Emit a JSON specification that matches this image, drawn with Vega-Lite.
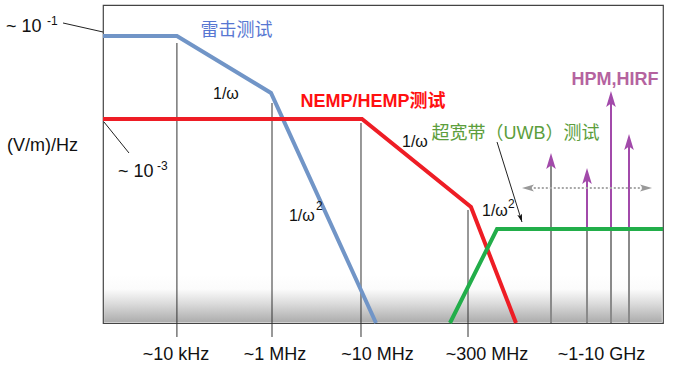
{
  "$schema": "https://vega.github.io/schema/vega-lite/v6.json",
  "width": 560,
  "height": 318,
  "autosize": {"type": "none"},
  "padding": {"left": 103, "top": 5, "right": 10, "bottom": 50},
  "background": "white",
  "config": {"view": {"stroke": "#444", "strokeWidth": 1.2}},
  "datasets": {
    "shade": [{"x": 0.2, "x2": 99.8, "y": 0.3, "y2": 15}],
    "curves": [
      {"series": "lightning", "order": 1, "x": 0, "y": 90.25},
      {"series": "lightning", "order": 2, "x": 13.2, "y": 90.25},
      {"series": "lightning", "order": 3, "x": 30.0, "y": 72.33},
      {"series": "lightning", "order": 4, "x": 48.75, "y": 0},
      {"series": "nemp", "order": 1, "x": 0, "y": 64.15},
      {"series": "nemp", "order": 2, "x": 46.25, "y": 64.15},
      {"series": "nemp", "order": 3, "x": 65.71, "y": 36.48},
      {"series": "nemp", "order": 4, "x": 73.75, "y": 0},
      {"series": "uwb", "order": 1, "x": 61.96, "y": 0},
      {"series": "uwb", "order": 2, "x": 70.36, "y": 29.56},
      {"series": "uwb", "order": 3, "x": 100, "y": 29.56}
    ],
    "rules": [
      {"kind": "guide", "x": 13.2, "x2": 13.2, "y": 88.05, "y2": -4.4},
      {"kind": "guide", "x": 30.18, "x2": 30.18, "y": 69.18, "y2": -4.4},
      {"kind": "guide", "x": 46.07, "x2": 46.07, "y": 62.89, "y2": -4.4},
      {"kind": "guide", "x": 65.18, "x2": 65.18, "y": 35.53, "y2": -4.4},
      {"kind": "pointer", "x": -7.14, "x2": 0, "y": 94.34, "y2": 91.51},
      {"kind": "pointer", "x": 0.18, "x2": 4.64, "y": 63.21, "y2": 53.46},
      {"kind": "pointer", "x": 70.36, "x2": 74.82, "y": 56.92, "y2": 31.76},
      {"kind": "ghzgray", "x": 80.0, "x2": 80.0, "y": 0, "y2": 50.0},
      {"kind": "ghzgray", "x": 86.43, "x2": 86.43, "y": 0, "y2": 29.56},
      {"kind": "ghzgray", "x": 90.71, "x2": 90.71, "y": 0, "y2": 29.56},
      {"kind": "ghzgray", "x": 93.93, "x2": 93.93, "y": 0, "y2": 29.56},
      {"kind": "ghzpurple", "x": 86.43, "x2": 86.43, "y": 29.56, "y2": 45.5},
      {"kind": "ghzpurple", "x": 90.71, "x2": 90.71, "y": 29.56, "y2": 69.5},
      {"kind": "ghzpurple", "x": 93.93, "x2": 93.93, "y": 29.56, "y2": 56.0},
      {"kind": "dotted", "x": 75.5, "x2": 97.5, "y": 42.45, "y2": 42.45}
    ],
    "heads": [
      {"kind": "up", "x": 80.0, "y": 53.46},
      {"kind": "up", "x": 86.43, "y": 48.74},
      {"kind": "up", "x": 90.71, "y": 72.96},
      {"kind": "up", "x": 93.93, "y": 59.43},
      {"kind": "left", "x": 74.82, "y": 42.45},
      {"kind": "right", "x": 98.04, "y": 42.45},
      {"kind": "pointer", "x": 74.82, "y": 31.76}
    ],
    "labels": [
      {"style": "axis", "text": "~10 kHz", "x": 13.04, "y": -11.64},
      {"style": "axis", "text": "~1 MHz", "x": 30.71, "y": -11.64},
      {"style": "axis", "text": "~10 MHz", "x": 49.02, "y": -11.64},
      {"style": "axis", "text": "~300 MHz", "x": 68.57, "y": -11.64},
      {"style": "axis", "text": "~1-10 GHz", "x": 89.02, "y": -11.64},
      {"style": "left", "text": "~ 10", "x": -17.32, "y": 91.51},
      {"style": "left", "text": "(V/m)/Hz", "x": -17.14, "y": 54.09},
      {"style": "left", "text": "~ 10", "x": 2.68, "y": 45.91},
      {"style": "sup", "text": "-1", "x": -10.0, "y": 93.71},
      {"style": "sup", "text": "-3", "x": 9.64, "y": 48.11},
      {"style": "sup", "text": "2", "x": 38.04, "y": 35.53},
      {"style": "sup", "text": "2", "x": 72.32, "y": 36.16},
      {"style": "omega", "text": "1/ω", "x": 19.64, "y": 70.44},
      {"style": "omega", "text": "1/ω", "x": 53.39, "y": 55.35},
      {"style": "omega", "text": "1/ω", "x": 33.21, "y": 32.08},
      {"style": "omega", "text": "1/ω", "x": 67.68, "y": 33.65},
      {"style": "lightning", "text": "雷击测试", "x": 23.84, "y": 91.98},
      {"style": "nemp", "text": "NEMP/HEMP测试", "x": 48.21, "y": 69.5},
      {"style": "uwb", "text": "超宽带（UWB）测试", "x": 73.66, "y": 59.28},
      {"style": "hpm", "text": "HPM,HIRF", "x": 91.43, "y": 76.57}
    ]
  },
  "encoding": {
    "x": {"field": "x", "type": "quantitative", "scale": {"domain": [0, 100], "nice": false, "zero": false}, "axis": null},
    "y": {"field": "y", "type": "quantitative", "scale": {"domain": [0, 100], "nice": false, "zero": false}, "axis": null}
  },
  "layer": [
    {
      "data": {"name": "shade"},
      "mark": {"type": "rect", "fill": {"gradient": "linear", "x1": 0, "y1": 0, "x2": 0, "y2": 1, "stops": [{"offset": 0, "color": "#ffffff"}, {"offset": 0.3, "color": "#fbfbfb"}, {"offset": 0.6, "color": "#dcdcdc"}, {"offset": 1, "color": "#adadad"}]}},
      "encoding": {"x2": {"field": "x2"}, "y2": {"field": "y2"}}
    },
    {
      "data": {"name": "rules"},
      "transform": [{"filter": "datum.kind == 'guide'"}],
      "mark": {"type": "rule", "color": "#333333", "strokeWidth": 1},
      "encoding": {"x2": {"field": "x2"}, "y2": {"field": "y2"}}
    },
    {
      "data": {"name": "rules"},
      "transform": [{"filter": "datum.kind == 'ghzgray'"}],
      "mark": {"type": "rule", "color": "#8a8a8a", "strokeWidth": 2},
      "encoding": {"x2": {"field": "x2"}, "y2": {"field": "y2"}}
    },
    {
      "data": {"name": "rules"},
      "transform": [{"filter": "datum.kind == 'ghzpurple'"}],
      "mark": {"type": "rule", "color": "#a24aaa", "strokeWidth": 2},
      "encoding": {"x2": {"field": "x2"}, "y2": {"field": "y2"}}
    },
    {
      "data": {"name": "rules"},
      "transform": [{"filter": "datum.kind == 'dotted'"}],
      "mark": {"type": "rule", "color": "#a8a8a8", "strokeWidth": 2, "strokeDash": [2, 2]},
      "encoding": {"x2": {"field": "x2"}, "y2": {"field": "y2"}}
    },
    {
      "data": {"name": "curves"},
      "mark": {"type": "line", "strokeWidth": 4},
      "encoding": {
        "color": {"field": "series", "type": "nominal", "scale": {"domain": ["lightning", "nemp", "uwb"], "range": ["#7195c7", "#ee1d25", "#22ae4a"]}, "legend": null},
        "order": {"field": "order", "type": "quantitative"}
      }
    },
    {
      "data": {"name": "rules"},
      "transform": [{"filter": "datum.kind == 'pointer'"}],
      "mark": {"type": "rule", "color": "#222222", "strokeWidth": 1},
      "encoding": {"x2": {"field": "x2"}, "y2": {"field": "y2"}}
    },
    {
      "data": {"name": "heads"},
      "transform": [{"filter": "datum.kind == 'up'"}],
      "mark": {"type": "point", "shape": "M0,-1L0.6,1L0,0.55L-0.6,1Z", "filled": true, "size": 256, "color": "#a24aaa", "opacity": 1, "yOffset": 8}
    },
    {
      "data": {"name": "heads"},
      "transform": [{"filter": "datum.kind == 'left'"}],
      "mark": {"type": "point", "shape": "M0,-1L0.6,1L0,0.55L-0.6,1Z", "filled": true, "size": 144, "color": "#999999", "opacity": 1, "angle": 270, "xOffset": 6}
    },
    {
      "data": {"name": "heads"},
      "transform": [{"filter": "datum.kind == 'right'"}],
      "mark": {"type": "point", "shape": "M0,-1L0.6,1L0,0.55L-0.6,1Z", "filled": true, "size": 144, "color": "#999999", "opacity": 1, "angle": 90, "xOffset": -6}
    },
    {
      "data": {"name": "heads"},
      "transform": [{"filter": "datum.kind == 'pointer'"}],
      "mark": {"type": "point", "shape": "M0,-1L0.6,1L0,0.55L-0.6,1Z", "filled": true, "size": 64, "color": "#111111", "opacity": 1, "angle": 163, "xOffset": -1.2, "yOffset": -3.8}
    },
    {
      "data": {"name": "labels"},
      "transform": [{"filter": "datum.style == 'axis'"}],
      "mark": {"type": "text", "font": "Liberation Sans", "fontSize": 18, "align": "center", "baseline": "alphabetic", "color": "#111111"},
      "encoding": {"text": {"field": "text"}}
    },
    {
      "data": {"name": "labels"},
      "transform": [{"filter": "datum.style == 'left'"}],
      "mark": {"type": "text", "font": "Liberation Sans", "fontSize": 18, "align": "left", "baseline": "alphabetic", "color": "#111111"},
      "encoding": {"text": {"field": "text"}}
    },
    {
      "data": {"name": "labels"},
      "transform": [{"filter": "datum.style == 'sup'"}],
      "mark": {"type": "text", "font": "Liberation Sans", "fontSize": 12, "align": "left", "baseline": "alphabetic", "color": "#111111"},
      "encoding": {"text": {"field": "text"}}
    },
    {
      "data": {"name": "labels"},
      "transform": [{"filter": "datum.style == 'omega'"}],
      "mark": {"type": "text", "font": "Liberation Sans", "fontSize": 16, "align": "left", "baseline": "alphabetic", "color": "#111111"},
      "encoding": {"text": {"field": "text"}}
    },
    {
      "data": {"name": "labels"},
      "transform": [{"filter": "datum.style == 'lightning'"}],
      "mark": {"type": "text", "font": "Noto Sans CJK SC", "fontSize": 18, "align": "center", "baseline": "middle", "color": "#5877d2"},
      "encoding": {"text": {"field": "text"}}
    },
    {
      "data": {"name": "labels"},
      "transform": [{"filter": "datum.style == 'nemp'"}],
      "mark": {"type": "text", "font": "Liberation Sans, Noto Sans CJK SC", "fontSize": 18, "fontWeight": "bold", "align": "center", "baseline": "middle", "color": "#ff1010"},
      "encoding": {"text": {"field": "text"}}
    },
    {
      "data": {"name": "labels"},
      "transform": [{"filter": "datum.style == 'uwb'"}],
      "mark": {"type": "text", "font": "Liberation Sans, Noto Sans CJK SC", "fontSize": 18, "align": "center", "baseline": "middle", "color": "#5c9e3c"},
      "encoding": {"text": {"field": "text"}}
    },
    {
      "data": {"name": "labels"},
      "transform": [{"filter": "datum.style == 'hpm'"}],
      "mark": {"type": "text", "font": "Liberation Sans", "fontSize": 18, "fontWeight": "bold", "align": "center", "baseline": "middle", "color": "#b5639f"},
      "encoding": {"text": {"field": "text"}}
    }
  ]
}
